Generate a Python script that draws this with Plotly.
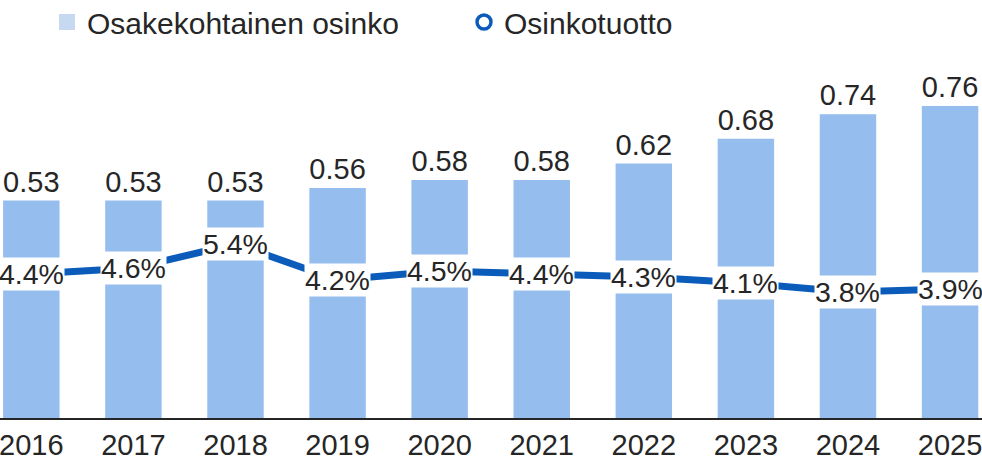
import plotly.graph_objects as go

years = [2016, 2017, 2018, 2019, 2020, 2021, 2022, 2023, 2024, 2025]
dividend = [0.53, 0.53, 0.53, 0.56, 0.58, 0.58, 0.62, 0.68, 0.74, 0.76]
yield_pct = [4.4, 4.6, 5.4, 4.2, 4.5, 4.4, 4.3, 4.1, 3.8, 3.9]
bar_name = "Osakekohtainen osinko"
line_name = "Osinkotuotto"

BAR = "#95BDEE"
BAR_LEG = "#C6D9F1"
LINE = "#0B5CBA"
TXT = "#262626"
FONT = "Liberation Sans, Arial, sans-serif"

fig = go.Figure()
fig.add_trace(go.Bar(
    x=years, y=dividend, marker_color=BAR, marker_line_width=0,
    texttemplate="%{y:.2f}", textposition="outside",
    textfont=dict(size=30, color=TXT, family=FONT),
    cliponaxis=False, showlegend=False, name=bar_name,
))
fig.add_trace(go.Scatter(
    x=years, y=yield_pct, yaxis="y2", mode="lines",
    line=dict(color=LINE, width=7), showlegend=False, name=line_name,
))
# legend-only entries
fig.add_trace(go.Scatter(
    x=[None], y=[None], mode="markers", name=bar_name,
    marker=dict(symbol="square", size=16, color=BAR_LEG), legend="legend",
))
fig.add_trace(go.Scatter(
    x=[None], y=[None], mode="markers", name=line_name,
    marker=dict(symbol="circle-open", size=14, color=LINE, line=dict(width=3.5, color=LINE)),
    legend="legend2",
))

for yr, v in zip(years, yield_pct):
    fig.add_annotation(
        x=yr, y=v, xref="x", yref="y2", text=f"{v:.1f}%", showarrow=False,
        bgcolor="white", borderpad=0, xshift=0,
        font=dict(size=28.5, color=TXT, family=FONT),
    )

plot_h = 469 - 60 - 51
leg_common = dict(orientation="h", xanchor="left", yref="container", y=1 - 22 / 469,
                  yanchor="middle", font=dict(size=30, color=TXT, family=FONT),
                  bgcolor="rgba(0,0,0,0)")
fig.update_layout(
    width=982, height=469,
    margin=dict(l=0, r=0, t=60, b=51),
    paper_bgcolor="white", plot_bgcolor="white",
    bargap=0.447,
    font=dict(family=FONT, color=TXT),
    xaxis=dict(
        range=[2015.693, 2025.313], tickmode="array", tickvals=years,
        ticktext=[str(y) for y in years], showgrid=False, zeroline=False,
        showline=True, linecolor=TXT, linewidth=2, ticks="",
        ticklabeloverflow="allow",
        tickfont=dict(size=29, color=TXT, family=FONT),
    ),
    yaxis=dict(range=[0, plot_h / 410.5], visible=False, showgrid=False),
    yaxis2=dict(range=[4.4 - 144 / 30, 4.4 + 214 / 30], overlaying="y",
                visible=False, showgrid=False),
    legend=dict(x=47 / 982, **leg_common),
    legend2=dict(x=464 / 982, **leg_common),
)

fig.write_html("out.html", config={"displayModeBar": False},
               post_script="document.body.style.margin='0';document.body.style.padding='0';")
